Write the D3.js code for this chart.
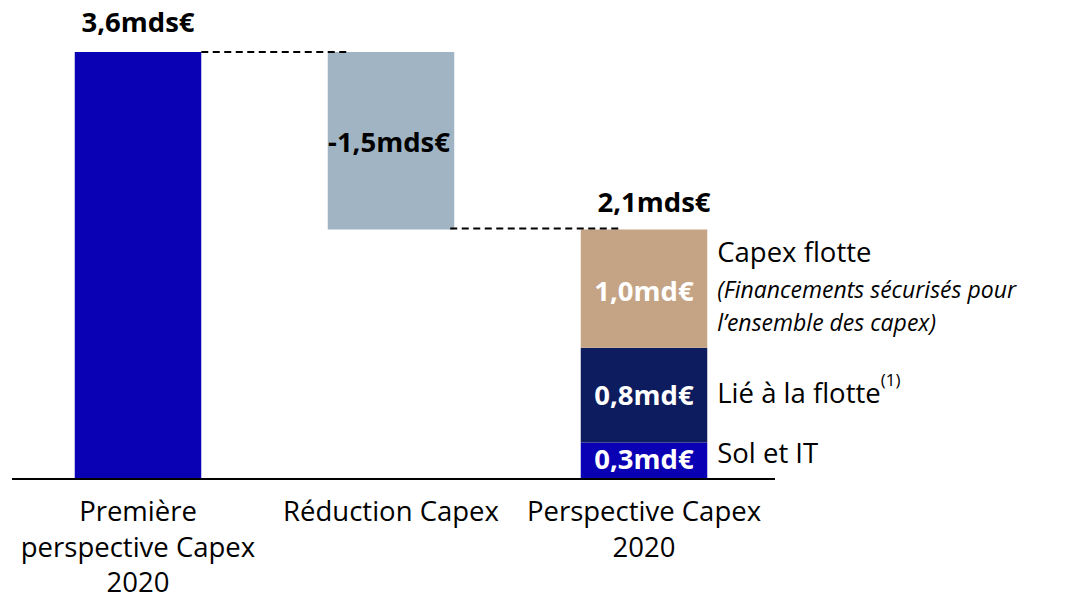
<!DOCTYPE html>
<html>
<head>
<meta charset="utf-8">
<script src="https://cdn.jsdelivr.net/npm/d3@7"></script>
<style>
  body { margin: 0; background: #fff; }
  svg text { font-family: "Open Sans", "DejaVu Sans", sans-serif; }
</style>
</head>
<body>
<svg width="1071" height="600"></svg>
<script>
// data
let categories = ["Première perspective Capex 2020", "Réduction Capex", "Perspective Capex 2020"];
let categoryLines = [["Première", "perspective Capex", "2020"], ["Réduction Capex"], ["Perspective Capex", "2020"]];
let startValue = 3.6;
let reduction = -1.5;
let endValue = 2.1;
let totalLabels = ["3,6mds€", "-1,5mds€", "2,1mds€"];
let parts = ["Sol et IT", "Lié à la flotte", "Capex flotte"];
let partValues = [0.3, 0.8, 1.0];
let partLabels = ["0,3md€", "0,8md€", "1,0md€"];
let partColors = ["#0a00b4", "#0c1c5e", "#c4a484"];
let noteLines = ["(Financements sécurisés pour", "l’ensemble des capex)"];

var svg = d3.select("svg"),
    width = +svg.attr("width"),
    height = +svg.attr("height");

let fs = 27.5;

let x = d3.scaleBand()
    .domain(categories)
    .range([11.5, 770.5])
    .paddingInner(0.5)
    .paddingOuter(0.25);

let y = d3.scaleLinear()
    .domain([0, startValue])
    .range([478, 52]);

// first bar
svg.append("rect")
    .attr("x", x(categories[0]))
    .attr("y", y(startValue))
    .attr("width", x.bandwidth())
    .attr("height", y(0) - y(startValue))
    .attr("fill", "#0a00b4");

// reduction bar
svg.append("rect")
    .attr("x", x(categories[1]))
    .attr("y", y(startValue))
    .attr("width", x.bandwidth())
    .attr("height", y(startValue + reduction) - y(startValue))
    .attr("fill", "#a0b4c3");

// stacked end bar
let stack = [];
let acc = 0;
partValues.forEach(function(v, i){
    stack.push({name: parts[i], y0: acc, y1: acc + v, label: partLabels[i], color: partColors[i]});
    acc += v;
});

svg.append("g")
    .selectAll("rect")
    .data(stack)
    .enter().append("rect")
    .attr("x", x(categories[2]))
    .attr("y", d => y(d.y1))
    .attr("width", x.bandwidth())
    .attr("height", d => y(d.y0) - y(d.y1))
    .attr("fill", d => d.color);

// connectors
let dash = svg.append("g")
    .attr("stroke", "#000")
    .attr("stroke-width", 1.8)
    .attr("stroke-dasharray", "7,4.5");
dash.append("line")
    .attr("x1", x(categories[0]) + x.bandwidth()).attr("x2", x(categories[1]) + 22)
    .attr("y1", y(startValue)).attr("y2", y(startValue));
dash.append("line")
    .attr("x1", x(categories[1]) + x.bandwidth() - 4).attr("x2", x(categories[2]) + 38)
    .attr("y1", y(endValue) - 1).attr("y2", y(endValue) - 1);

// baseline
svg.append("line")
    .attr("x1", 12).attr("x2", 775)
    .attr("y1", y(0) + 1).attr("y2", y(0) + 1)
    .attr("stroke", "#000")
    .attr("stroke-width", 2);

// total labels
let cx = c => x(c) + x.bandwidth() / 2;
let totalPos = [[cx(categories[0]), 32], [cx(categories[1]) - 2, 152], [cx(categories[2]) + 10, 212]];
svg.append("g")
    .selectAll("text")
    .data(totalLabels)
    .enter().append("text")
    .attr("x", (d, i) => totalPos[i][0])
    .attr("y", (d, i) => totalPos[i][1])
    .attr("text-anchor", "middle")
    .attr("font-weight", "bold")
    .attr("font-size", fs)
    .text(d => d);

// part labels inside bar
let inside = [469, 405, 301];
svg.append("g")
    .selectAll("text")
    .data(stack)
    .enter().append("text")
    .attr("x", cx(categories[2]))
    .attr("y", (d, i) => inside[i])
    .attr("text-anchor", "middle")
    .attr("font-weight", "bold")
    .attr("font-size", fs)
    .attr("fill", "#fff")
    .text(d => d.label);

// part names on the right
let rx = x(categories[2]) + x.bandwidth() + 10;
svg.append("text").attr("x", rx).attr("y", 463).attr("font-size", fs).text(parts[0]);
let lie = svg.append("text").attr("x", rx).attr("y", 403).attr("font-size", fs).text(parts[1]);
lie.append("tspan").attr("dy", -17).attr("font-size", 17).text("(1)");
svg.append("text").attr("x", rx).attr("y", 262).attr("font-size", fs).text(parts[2]);
noteLines.forEach(function(l, j){
    svg.append("text").attr("x", rx).attr("y", 298 + j * 33)
        .attr("font-size", 23).attr("font-style", "italic")
        .text(l);
});

// category labels
categoryLines.forEach(function(lines, i){
    let t = svg.append("text")
        .attr("text-anchor", "middle")
        .attr("font-size", fs);
    lines.forEach(function(l, j){
        t.append("tspan")
            .attr("x", cx(categories[i]))
            .attr("y", 521 + j * 35.5)
            .text(l);
    });
});
</script>
</body>
</html>
